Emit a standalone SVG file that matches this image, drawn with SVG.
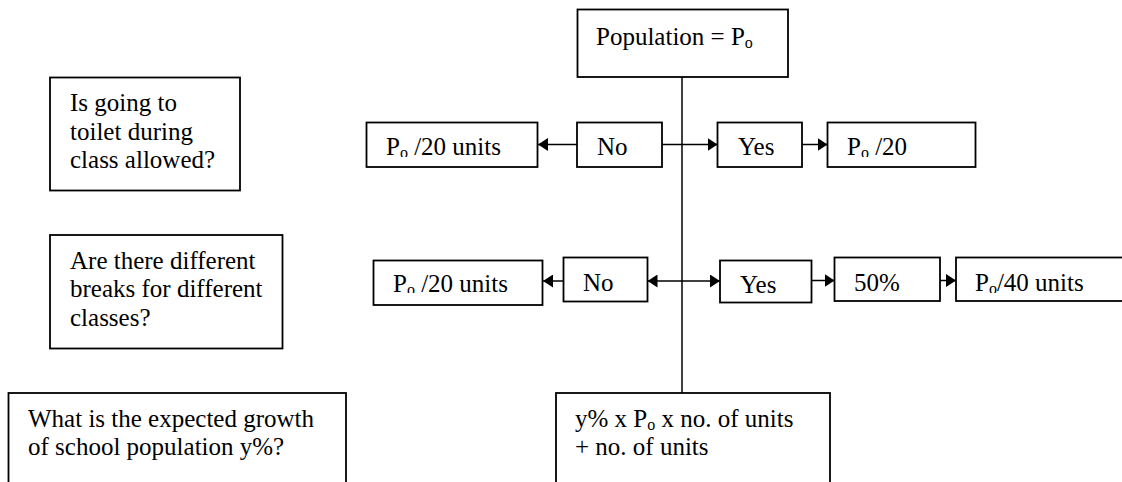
<svg xmlns="http://www.w3.org/2000/svg" width="1122" height="482" viewBox="0 0 1122 482">
<style>
.box{fill:#fff;stroke:#000;stroke-width:1.8}
.ln{fill:none;stroke:#000;stroke-width:1.5}
text{font-family:"Liberation Serif","Times New Roman",serif;font-size:25px;fill:#000}
.sub{font-size:16px}
</style>
<defs>
<marker id="ah" markerUnits="userSpaceOnUse" markerWidth="10" markerHeight="13" refX="10" refY="6.5" orient="auto">
<path d="M0,0 L10,6.5 L0,13 z" fill="#000"/>
</marker>
<marker id="as" markerUnits="userSpaceOnUse" markerWidth="10" markerHeight="13" refX="0" refY="6.5" orient="auto">
<path d="M10,0 L0,6.5 L10,13 z" fill="#000"/>
</marker>
<clipPath id="c1"><rect x="366" y="120" width="172" height="37"/></clipPath>
<clipPath id="c2"><rect x="827" y="120" width="149" height="37"/></clipPath>
<clipPath id="c3"><rect x="373" y="258" width="170" height="35"/></clipPath>
<clipPath id="c4"><rect x="955" y="255" width="170" height="38"/></clipPath>
</defs>

<g id="connectors">
<line class="ln" x1="682" y1="77" x2="682" y2="393"/>
<line class="ln" x1="577" y1="144.5" x2="538" y2="144.5" marker-end="url(#ah)"/>
<line class="ln" x1="662" y1="144.5" x2="717.5" y2="144.5" marker-end="url(#ah)"/>
<line class="ln" x1="802" y1="144.5" x2="827.5" y2="144.5" marker-end="url(#ah)"/>
<line class="ln" x1="563" y1="281" x2="543" y2="281" marker-end="url(#ah)"/>
<line class="ln" x1="647.5" y1="281" x2="720" y2="281" marker-start="url(#as)" marker-end="url(#ah)"/>
<line class="ln" x1="812" y1="280.5" x2="834.5" y2="280.5" marker-end="url(#ah)"/>
<line class="ln" x1="940" y1="280.5" x2="956" y2="280.5" marker-end="url(#ah)"/>
</g>

<g id="population">
<rect class="box" x="577.5" y="9.5" width="210.5" height="67.5"/>
<text x="596" y="45">Population = P<tspan class="sub" dy="3">o</tspan></text>
</g>

<g id="q-toilet">
<rect class="box" x="50" y="77.5" width="190" height="113"/>
<text x="70" y="111">Is going to</text>
<text x="70" y="139.5">toilet during</text>
<text x="70" y="168">class allowed?</text>
</g>

<g id="q-breaks">
<rect class="box" x="50" y="235" width="232.5" height="113.5"/>
<text x="70" y="269">Are there different</text>
<text x="70" y="297">breaks for different</text>
<text x="70" y="326">classes?</text>
</g>

<g id="q-growth">
<rect class="box" x="8.5" y="393" width="337.5" height="100"/>
<text x="28" y="427">What is the expected growth</text>
<text x="28" y="455">of school population y%?</text>
</g>

<g id="r1-units">
<rect class="box" x="366.5" y="122.5" width="171" height="44.5"/>
<text x="386" y="155" clip-path="url(#c1)">P<tspan class="sub" dy="3">o</tspan><tspan dy="-3"> /20 units</tspan></text>
</g>

<g id="r1-no">
<rect class="box" x="577" y="122.5" width="85" height="44.5"/>
<text x="597" y="155">No</text>
</g>

<g id="r1-yes">
<rect class="box" x="717.5" y="122.5" width="84.5" height="44.5"/>
<text x="738" y="155">Yes</text>
</g>

<g id="r1-result">
<rect class="box" x="827.5" y="122.5" width="148" height="44.5"/>
<text x="847" y="155" clip-path="url(#c2)">P<tspan class="sub" dy="3">o</tspan><tspan dy="-3"> /20</tspan></text>
</g>

<g id="r2-units">
<rect class="box" x="373.5" y="260.5" width="169" height="44.5"/>
<text x="393" y="291.5" clip-path="url(#c3)">P<tspan class="sub" dy="3">o</tspan><tspan dy="-3"> /20 units</tspan></text>
</g>

<g id="r2-no">
<rect class="box" x="563.5" y="257.5" width="84" height="44"/>
<text x="583" y="290.5">No</text>
</g>

<g id="r2-yes">
<rect class="box" x="720" y="260.5" width="91.5" height="42"/>
<text x="740" y="293">Yes</text>
</g>

<g id="r2-half">
<rect class="box" x="834.5" y="257.5" width="105.5" height="43.5"/>
<text x="854" y="290.5">50%</text>
</g>

<g id="r2-result">
<rect class="box" x="956" y="257.5" width="175" height="43.5"/>
<text x="975" y="290.5" clip-path="url(#c4)">P<tspan class="sub" dy="3">o</tspan><tspan dy="-3">/40 units</tspan></text>
</g>

<g id="formula">
<rect class="box" x="556" y="393" width="274" height="100"/>
<text x="575" y="427">y% x P<tspan class="sub" dy="3">o</tspan><tspan dy="-3"> x no. of units</tspan></text>
<text x="575" y="455">+ no. of units</text>
</g>
</svg>
